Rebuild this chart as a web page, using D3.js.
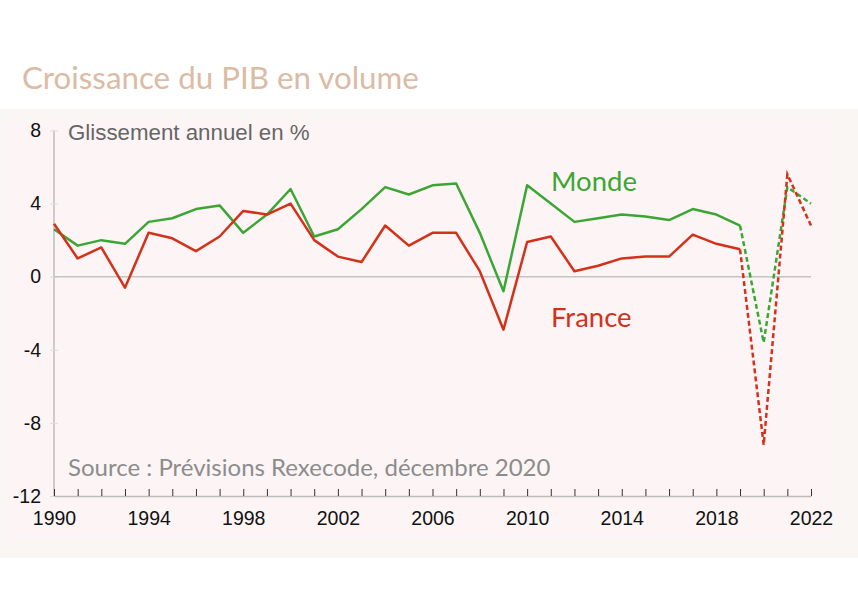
<!DOCTYPE html>
<html>
<head>
<meta charset="utf-8">
<script src="https://cdn.jsdelivr.net/npm/d3@7"></script>
<style>
  body { margin: 0; background: #fff; }
  svg { display: block; }
</style>
</head>
<body>
<svg id="chart"></svg>
<script>
// data
const years = d3.range(1990, 2023);
const monde = [2.6, 1.7, 2.0, 1.8, 3.0, 3.2, 3.7, 3.9, 2.4, 3.4, 4.8,
  2.2, 2.6, 3.7, 4.9, 4.5, 5.0, 5.1, 2.4, -0.8, 5.0,
  4.0, 3.0, 3.2, 3.4, 3.3, 3.1, 3.7, 3.4, 2.8, -3.6, 4.9, 4.0];
const france = [2.9, 1.0, 1.6, -0.6, 2.4, 2.1, 1.4, 2.2, 3.6, 3.4, 4.0,
  2.0, 1.1, 0.8, 2.8, 1.7, 2.4, 2.4, 0.3, -2.9, 1.9,
  2.2, 0.3, 0.6, 1.0, 1.1, 1.1, 2.3, 1.8, 1.5, -9.2, 5.6, 2.8];
const lastActual = 2019;
const yTicks = [8, 4, 0, -4, -8, -12];
const xTicks = [1990, 1994, 1998, 2002, 2006, 2010, 2014, 2018, 2022];

const W = 858, H = 600;
const svg = d3.select("#chart").attr("width", W).attr("height", H);

// panels
svg.append("rect").attr("x", 0).attr("y", 109).attr("width", W).attr("height", 449)
  .attr("fill", "#f9f6f3");
svg.append("rect").attr("x", 6).attr("y", 121).attr("width", 826).attr("height", 419)
  .attr("fill", "#fdf5f5");

svg.append("text").attr("x", 22).attr("y", 89)
  .attr("font-family", "Lato, 'Open Sans', sans-serif").attr("font-size", 31.3)
  .attr("fill", "#dcbba4").text("Croissance du PIB en volume");

const x = d3.scaleLinear().domain([1990, 2022]).range([54, 811]);
const y = d3.scaleLinear().domain([-12, 8]).range([496, 130.5]);
const tickFont = "'Liberation Sans', Arial, sans-serif";

// y axis
const yAxis = svg.append("g").attr("transform", "translate(54,0)")
  .call(d3.axisLeft(y).tickValues(yTicks).tickSize(4).tickPadding(9)
    .tickFormat(d => String(d)));
yAxis.select(".domain").attr("stroke", "#cccccc").attr("stroke-width", 2)
  .attr("d", "M0," + y(8) + "V" + y(-12));
yAxis.selectAll(".tick line").attr("stroke", "#dddddd").attr("x2", 4).attr("x1", -4);
yAxis.selectAll(".tick text").attr("font-family", tickFont)
  .attr("font-size", 19.5).attr("fill", "#111");

// zero line
svg.append("line").attr("x1", x(1990)).attr("x2", x(2022))
  .attr("y1", y(0)).attr("y2", y(0))
  .attr("stroke", "#c4c4c4").attr("stroke-width", 1.5);

// x axis
const xAxis = svg.append("g").attr("transform", "translate(0," + y(-12) + ")")
  .call(d3.axisBottom(x).tickValues(years).tickSize(0).tickFormat(""));
xAxis.select(".domain").attr("stroke", "#bbbbbb").attr("stroke-width", 1.5);
xAxis.selectAll(".tick line").attr("y2", -7).attr("stroke", "#333");
const xLab = svg.append("g").attr("transform", "translate(0," + y(-12) + ")")
  .call(d3.axisBottom(x).tickValues(xTicks).tickSize(0).tickPadding(15).tickFormat(d => String(d)));
xLab.select(".domain").remove();
xLab.selectAll(".tick text").attr("font-family", tickFont)
  .attr("font-size", 19.5).attr("fill", "#111");

// lines
const line = d3.line().x(d => x(d[0])).y(d => y(d[1]));
function drawSeries(vals, color) {
  const pts = years.map((yr, i) => [yr, vals[i]]);
  svg.append("path").datum(pts.filter(d => d[0] <= lastActual))
    .attr("d", line).attr("fill", "none").attr("stroke", color)
    .attr("stroke-width", 2.5).attr("stroke-linejoin", "round");
  svg.append("path").datum(pts.filter(d => d[0] >= lastActual))
    .attr("d", line).attr("fill", "none").attr("stroke", color)
    .attr("stroke-width", 2.5).attr("stroke-dasharray", "5,3");
}
drawSeries(monde, "#3ca634");
drawSeries(france, "#d4311b");

// labels
const avenir = "Lato, 'Open Sans', sans-serif";
svg.append("text").attr("x", 551).attr("y", 191).attr("font-family", avenir)
  .attr("font-size", 27.5).attr("fill", "#3ca634").text("Monde");
svg.append("text").attr("x", 551).attr("y", 327).attr("font-family", avenir)
  .attr("font-size", 27.5).attr("fill", "#d4311b").text("France");
svg.append("text").attr("x", 68).attr("y", 140)
  .attr("font-family", tickFont)
  .attr("font-size", 22.3).attr("fill", "#666").text("Glissement annuel en %");
svg.append("text").attr("x", 68).attr("y", 476).attr("font-family", avenir)
  .attr("font-size", 24).attr("fill", "#8c8c8c").text("Source : Prévisions Rexecode, décembre 2020");
</script>
</body>
</html>
